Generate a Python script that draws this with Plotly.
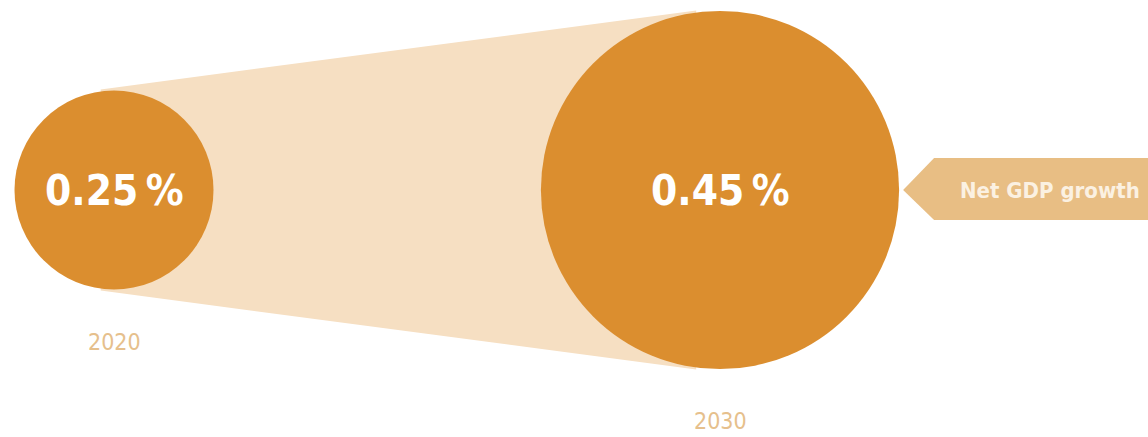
import math
import plotly.graph_objects as go

# ---- data ----
years = [2020, 2030]
growth = [0.25, 0.45]            # net GDP growth, %
value_labels = ["0.25\u2009%", "0.45\u2009%"]
year_labels = ["2020", "2030"]
callout_text = "Net GDP growth"

# ---- layout constants ----
W, H = 1148, 437
X_LEFT_PX, X_RIGHT_PX = 114, 720     # pixel positions of the two years
CY = 190                              # vertical centre line (px from top)
PX_PER_UNIT = 398                     # radius in px per % point
LABEL_GAP = 52

ORANGE = "#DB8E2F"
LIGHT = "#F6DFC2"
ARROW = "#E8BE84"
YEAR_COL = "#E6C08C"
FONT = "Liberation Sans Narrow, DejaVu Sans Condensed, Arial Narrow, sans-serif"

px_per_year = (X_RIGHT_PX - X_LEFT_PX) / (years[1] - years[0])
x0 = years[0] - X_LEFT_PX / px_per_year
x1 = x0 + W / px_per_year

def to_px(yr):
    return (yr - x0) * px_per_year

def to_year(px):
    return x0 + px / px_per_year

radii = [g * PX_PER_UNIT for g in growth]
cxs = [to_px(y) for y in years]

# external tangent hull between the two circles
r1, r2 = radii
d = cxs[1] - cxs[0]
s = (r2 - r1) / d
c = math.sqrt(1 - s * s)
pad = 2
pts_top = [(cxs[0] - (r1 + pad) * s, CY - (r1 + pad) * c), (cxs[1] - (r2 + pad) * s, CY - (r2 + pad) * c)]
pts_bot = [(cxs[1] - (r2 + pad) * s, CY + (r2 + pad) * c), (cxs[0] - (r1 + pad) * s, CY + (r1 + pad) * c)]
poly = pts_top + pts_bot

fig = go.Figure()
fig.add_trace(go.Scatter(
    x=[to_year(p[0]) for p in poly] + [to_year(poly[0][0])],
    y=[p[1] for p in poly] + [poly[0][1]],
    fill="toself", fillcolor=LIGHT, mode="lines", line=dict(width=0, color=LIGHT),
    hoverinfo="skip", showlegend=False))

shapes = []
for yr, r in zip(years, radii):
    shapes.append(dict(type="circle", xref="x", yref="y",
                       x0=yr - r / px_per_year, x1=yr + r / px_per_year,
                       y0=CY - r, y1=CY + r,
                       fillcolor=ORANGE, line=dict(width=0), layer="above"))

# callout arrow pointing at the larger circle
tip = cxs[1] + r2 + 4
shapes.append(dict(type="path", xref="paper", yref="y",
                   path=(f"M {tip/W} {CY} L {(tip+31)/W} {CY-32} L 1 {CY-32} "
                         f"L 1 {CY+30} L {(tip+31)/W} {CY+30} Z"),
                   fillcolor=ARROW, line=dict(width=0), layer="above"))

annotations = []
for yr, r, vl, yl in zip(years, radii, value_labels, year_labels):
    annotations.append(dict(x=yr, y=CY, xref="x", yref="y", text=f"<b>{vl}</b>",
                            xanchor="center", yanchor="middle",
                            showarrow=False, font=dict(family=FONT, size=42, color="white")))
    annotations.append(dict(x=yr, y=CY + r + LABEL_GAP, xref="x", yref="y", text=yl,
                            xanchor="center", yanchor="middle",
                            showarrow=False, font=dict(family=FONT, size=23, color=YEAR_COL)))
annotations.append(dict(x=1050 / W, y=CY, xref="paper", yref="y", text=f"<b>{callout_text}</b>",
                        xanchor="center", yanchor="middle",
                        showarrow=False, font=dict(family=FONT, size=22, color="#FBF1E2")))

fig.update_layout(
    width=W, height=H, margin=dict(l=0, r=0, t=0, b=0),
    paper_bgcolor="white", plot_bgcolor="white",
    xaxis=dict(range=[x0, x1], visible=False, fixedrange=True),
    yaxis=dict(range=[H, 0], visible=False, fixedrange=True),
    shapes=shapes, annotations=annotations, showlegend=False)

fig.write_html("out.html")
